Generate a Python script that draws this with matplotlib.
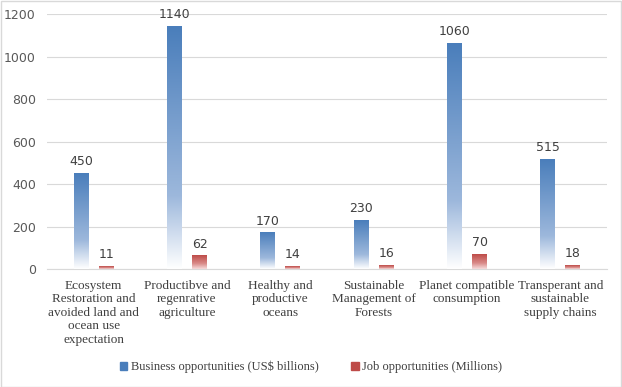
import matplotlib.pyplot as plt
import numpy as np
from matplotlib.colors import LinearSegmentedColormap
from matplotlib.patches import Rectangle

categories = ["Ecosystem\nRestoration and\navoided land and\nocean use\nexpectation",
              "Productibve and\nregenrative\nagriculture",
              "Healthy and\nproductive\noceans",
              "Sustainable\nManagement of\nForests",
              "Planet compatible\nconsumption",
              "Transperant and\nsustainable\nsupply chains"]
business = [450, 1140, 170, 230, 1060, 515]
jobs = [11, 62, 14, 16, 70, 18]

blue_cmap = LinearSegmentedColormap.from_list("b", [(0, "#ffffff"), (0.3, "#9db8dc"), (1, "#4a7ebb")])
red_cmap = LinearSegmentedColormap.from_list("r", [(0, "#f6dcdc"), (0.4, "#d98a88"), (1, "#be4b48")])

fig = plt.figure(figsize=(6.22, 3.87), dpi=100)
ax = fig.add_axes([47/622, 1-269/387, 560/622, 255/387])

w = 0.16
off = 0.134
grad = np.linspace(0, 1, 256).reshape(-1, 1)
x = np.arange(len(categories))

def gbar(xc, h, cmap):
    ax.imshow(grad, extent=[xc - w/2, xc + w/2, 0, h], origin="lower",
              aspect="auto", cmap=cmap, zorder=3)

for i in range(len(categories)):
    gbar(x[i] - off, business[i], blue_cmap)
    gbar(x[i] + off, jobs[i], red_cmap)
    ax.text(x[i] - off, business[i] + 25, str(business[i]), ha="center", va="bottom",
            fontsize=9, color="#404040")
    ax.text(x[i] + off, jobs[i] + 25, str(jobs[i]), ha="center", va="bottom",
            fontsize=9, color="#404040")

ax.set_xlim(-0.5, len(categories) - 0.5)
ax.set_ylim(0, 1200)
ax.set_yticks(range(0, 1201, 200))
ax.yaxis.grid(True, color="#d9d9d9", linewidth=0.8)
ax.set_axisbelow(True)
for s in ["top", "right", "left"]:
    ax.spines[s].set_visible(False)
ax.spines["bottom"].set_color("#d9d9d9")
ax.tick_params(axis="y", length=0, labelsize=9, labelcolor="#595959", pad=8)
ax.tick_params(axis="x", length=0, pad=8)
ax.set_xticks(x)
ax.set_xticklabels(categories, fontsize=9.5, color="#404040", family="Liberation Serif",
                   linespacing=1.15)

handles = [Rectangle((0, 0), 1, 1, color="#4a7ebb"), Rectangle((0, 0), 1, 1, color="#be4b48")]
leg = fig.legend(handles, ["Business opportunities (US$ billions)", "Job opportunities (Millions)"],
                 loc="center", bbox_to_anchor=(0.5, 1-367/387), ncol=2, frameon=False,
                 prop={"family": "Liberation Serif", "size": 9}, handlelength=0.6,
                 handleheight=0.6, columnspacing=2.6, handletextpad=0.3)
for t in leg.get_texts():
    t.set_color("#404040")

fig.patches.append(Rectangle((0.001, 0.001), 0.997, 0.997, transform=fig.transFigure,
                             fill=False, edgecolor="#d9d9d9", linewidth=1))
fig.savefig("out.png", dpi=100)
